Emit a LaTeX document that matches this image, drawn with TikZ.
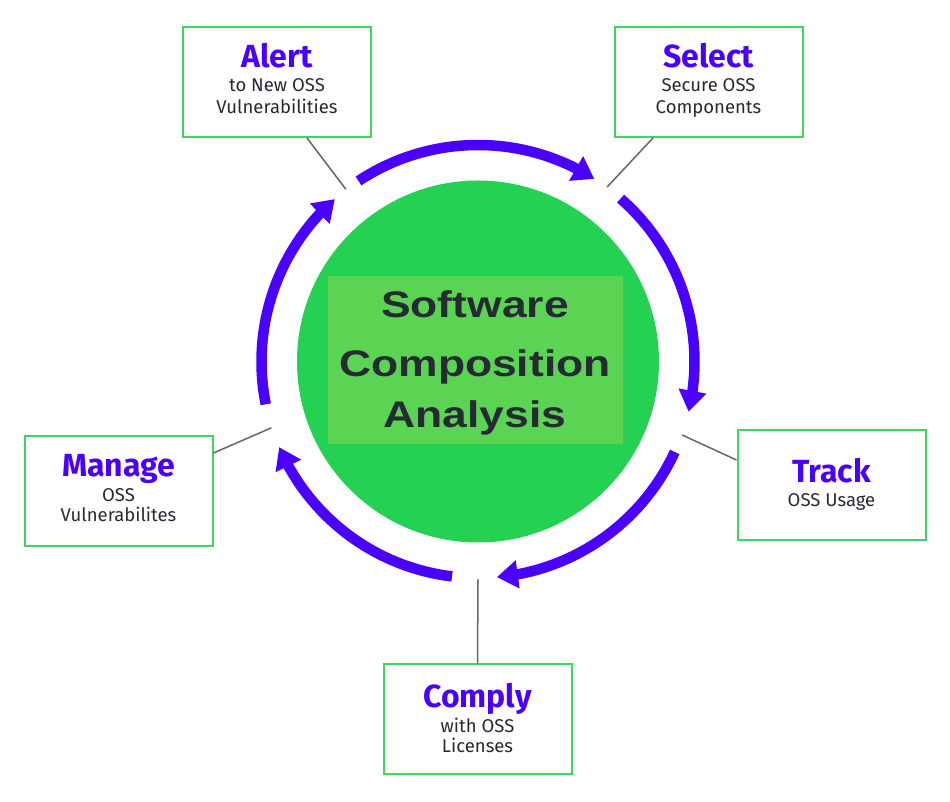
\documentclass[tikz,border=0pt]{standalone}
\usepackage{fontspec}
\setmainfont{Fira Sans}
\newfontfamily\scafont{Liberation Sans}
\usetikzlibrary{arrows.meta,bending}
\definecolor{ringpurple}{HTML}{4A00FF}
\definecolor{circgreen}{HTML}{25D152}
\definecolor{rectgreen}{HTML}{5BD454}
\definecolor{boxgreen}{HTML}{3DD65E}
\definecolor{darktext}{HTML}{262A33}
\definecolor{linegray}{HTML}{666666}
\begin{document}
\begin{tikzpicture}[x=1pt,y=1pt,
  infobox/.style={draw=boxgreen, line width=2pt, fill=white, minimum width=188pt, minimum height=110pt, inner sep=0pt},
  ttl/.style={font=\fontsize{32}{32}\selectfont\bfseries, text=ringpurple, anchor=base, inner sep=0pt},
  sub/.style={font=\fontsize{18.5}{21}\selectfont, text=darktext, anchor=base, inner sep=0pt},
  ring/.style={draw=ringpurple, line width=10.5pt},
  ringarrow/.style={ring, -{Triangle[width=27pt,length=21pt]}},
  lead/.style={draw=linegray, line width=1.5pt},
  scatext/.style={font=\scafont\fontsize{37}{37}\selectfont\bfseries, text=darktext, anchor=base, inner sep=0pt}]
\fill[white] (0,0) rectangle (950,802);
\useasboundingbox (0,0) rectangle (950,802);

% centre
\coordinate (c) at (478,440.5);
\fill[circgreen] (c) circle[radius=181];
\node[fill=rectgreen, minimum width=295pt, minimum height=168pt, inner sep=0pt] (core) at (475.5,442) {};
\node[scatext] (t1) at (475,484) {\scalebox{1.2}[1]{Software}};
\node[scatext] (t2) at (475,425.3) {\scalebox{1.2}[1]{Composition}};
\node[scatext] (t3) at (475,374) {\scalebox{1.2}[1]{Analysis}};

% ring arrows
\draw[ringarrow] ([shift={(123.5:216.5)}]c) arc[start angle=123.5, end angle=57.5, radius=216.5];
\draw[ringarrow] ([shift={(48.8:216.5)}]c) arc[start angle=48.8, end angle=-13.4, radius=216.5];
\draw[ringarrow] ([shift={(-24.7:216.5)}]c) arc[start angle=-24.7, end angle=-85, radius=216.5];
\draw[ringarrow] ([shift={(-96.9:216.5)}]c) arc[start angle=-96.9, end angle=-156.7, radius=216.5];
\draw[ringarrow] ([shift={(191.4:216.5)}]c) arc[start angle=191.4, end angle=131.4, radius=216.5];

% boxes
\node[infobox] (alert) at (277,720) {};
\node[infobox] (select) at (708.5,720) {};
\node[infobox] (track) at (831.5,316.5) {};
\node[infobox] (comply) at (477.5,82.5) {};
\node[infobox] (manage) at (118.5,311) {};

% box texts
\node[ttl] (alertT) at ([yshift=-41.5]alert.north) {Alert};
\node[sub] (alertS1) at ([yshift=-66]alert.north) {to New OSS};
\node[sub] (alertS2) at ([yshift=-88]alert.north) {Vulnerabilities};

\node[ttl] (selectT) at ([yshift=-41.5]select.north) {Select};
\node[sub] (selectS1) at ([yshift=-66]select.north) {Secure OSS};
\node[sub] (selectS2) at ([yshift=-88]select.north) {Components};

\node[ttl] (trackT) at ([yshift=-53]track.north) {Track};
\node[sub] (trackS1) at ([yshift=-77.5]track.north) {OSS Usage};

\node[ttl] (complyT) at ([yshift=-44]comply.north) {Comply};
\node[sub] (complyS1) at ([yshift=-69]comply.north) {with OSS};
\node[sub] (complyS2) at ([yshift=-89]comply.north) {Licenses};

\node[ttl] (manageT) at ([yshift=-41.5]manage.north) {Manage};
\node[sub] (manageS1) at ([yshift=-66.5]manage.north) {OSS};
\node[sub] (manageS2) at ([yshift=-86.5]manage.north) {Vulnerabilites};

% leader lines
\coordinate (pA) at ([shift={(127.5:217)}]c);
\coordinate (pS) at ([shift={(53.5:217)}]c);
\coordinate (pT) at ([shift={(-19.8:217)}]c);
\coordinate (pC) at ([shift={(-90:218)}]c);
\coordinate (pM) at ([shift={(197.8:217)}]c);
\draw[lead] (pA) -- ([xshift=30]alert.south);
\draw[lead] (pS) -- ([xshift=-55.5]select.south);
\draw[lead] (pT) -- ([yshift=25.5]track.west);
\draw[lead] (pC) -- (comply.north);
\draw[lead] (pM) -- ([yshift=38]manage.east);
\end{tikzpicture}
\end{document}
